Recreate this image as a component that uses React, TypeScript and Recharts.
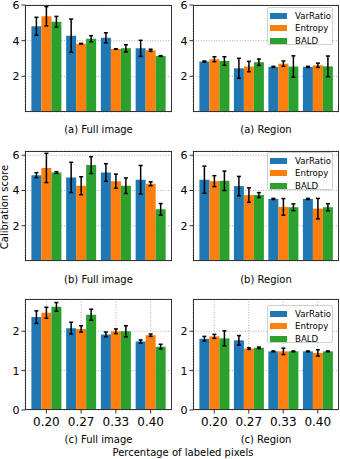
import { Bar, BarChart, CartesianGrid, ErrorBar, XAxis, YAxis } from 'recharts';

const levels = ['0.20', '0.27', '0.33', '0.40'];
const seriesNames = ['VarRatio', 'Entropy', 'BALD'];
const colors = ['#1f77b4', '#ff7f0e', '#2ca02c'];

// rows: VarRatio, Entropy, BALD
const aFullMean = [[4.81, 4.28, 4.16, 3.57], [5.37, 3.83, 3.53, 3.46], [5.06, 4.11, 3.57, 3.14]];
const aFullErr = [[0.5, 0.93, 0.28, 0.45], [0.54, 0.02, 0.01, 0.06], [0.3, 0.17, 0.2, 0.02]];
const aRegionMean = [[2.83, 2.45, 2.53, 2.53], [2.96, 2.55, 2.71, 2.62], [2.86, 2.79, 2.55, 2.56]];
const aRegionErr = [[0.03, 0.56, 0.03, 0.03], [0.14, 0.29, 0.15, 0.12], [0.24, 0.18, 0.6, 0.58]];
const bFullMean = [[4.87, 4.74, 5.02, 4.61], [5.28, 4.27, 4.53, 4.38], [5.02, 5.44, 4.27, 2.93]];
const bFullErr = [[0.14, 0.86, 0.5, 0.81], [0.83, 0.51, 0.4, 0.11], [0.05, 0.48, 0.44, 0.33]];
const bRegionMean = [[4.61, 4.25, 3.52, 3.52], [4.53, 3.74, 3.07, 2.97], [4.55, 3.74, 3.05, 3.05]];
const bRegionErr = [[0.77, 0.55, 0.03, 0.03], [0.31, 0.41, 0.47, 0.58], [0.55, 0.14, 0.19, 0.2]];
const cFullMean = [[2.36, 2.08, 1.92, 1.74], [2.47, 2.06, 2.0, 1.9], [2.62, 2.42, 2.0, 1.61]];
const cFullErr = [[0.16, 0.15, 0.06, 0.04], [0.14, 0.08, 0.06, 0.03], [0.11, 0.14, 0.14, 0.06]];
const cRegionMean = [[1.81, 1.77, 1.49, 1.49], [1.87, 1.56, 1.49, 1.45], [1.82, 1.58, 1.49, 1.49]];
const cRegionErr = [[0.06, 0.12, 0.01, 0.01], [0.05, 0.02, 0.08, 0.08], [0.19, 0.02, 0.01, 0.01]];

const AXIS_W = 25;
const TOP_PAD = 8;

interface Box { x0: number; x1: number; y0: number; y1: number }

interface PanelProps {
  means: number[][];
  errs: number[][];
  box: Box;
  yMax: number;
  yTicks: number[];
  xLabels?: boolean;
  legendTop?: number;
}

function KeyBox({ top, left }: { top: number; left: number }) {
  return (
    <div style={{ position: 'absolute', top, left, width: 66, height: 38, boxSizing: 'border-box', border: '1px solid #d0d0d0', borderRadius: 2, background: 'rgba(255,255,255,0.85)', fontSize: 8.6, padding: '2px 0 0 2px' }}>
      {seriesNames.map((name, i) => (
        <div key={name} style={{ display: 'flex', alignItems: 'center', height: 12.3 }}>
          <span style={{ width: 17, height: 6, background: colors[i], marginRight: 8 }} />
          <span>{name}</span>
        </div>
      ))}
    </div>
  );
}

function Panel({ means, errs, box, yMax, yTicks, xLabels, legendTop }: PanelProps) {
  const data = levels.map((level, i) => ({
    level,
    s0: means[0][i], e0: errs[0][i],
    s1: means[1][i], e1: errs[1][i],
    s2: means[2][i], e2: errs[2][i],
  }));
  const w = box.x1 - box.x0;
  const h = box.y1 - box.y0;
  const axisH = xLabels ? 30 : 5;
  return (
    <div style={{ position: 'absolute', left: box.x0 - AXIS_W, top: box.y0 - TOP_PAD }}>
      <BarChart width={w + AXIS_W} height={h + TOP_PAD + axisH} data={data} margin={{ top: TOP_PAD, right: 0, bottom: 0, left: 0 }} barCategoryGap={2.4} barGap={0}>
        <XAxis dataKey="level" height={axisH} interval={0} padding={{ left: 4, right: 4 }} axisLine={false} tickSize={3.5} tickMargin={4} tickLine={{ stroke: '#333' }} tick={xLabels ? { fontSize: 12, fill: '#000' } : false} />
        <YAxis width={AXIS_W} domain={[0, yMax]} ticks={yTicks} allowDataOverflow axisLine={false} tickSize={3.5} tickMargin={2} tickLine={{ stroke: '#333' }} tick={{ fontSize: 11, fill: '#000' }} />
        {[0, 1, 2].map((k) => (
          <Bar key={k} dataKey={`s${k}`} fill={colors[k]} isAnimationActive={false}>
            <ErrorBar dataKey={`e${k}`} direction="y" width={2} stroke="#000" strokeWidth={1.5} />
          </Bar>
        ))}
        <CartesianGrid stroke="#b0b0b0" strokeDasharray="1 1.6" />
      </BarChart>
      <div style={{ position: 'absolute', left: AXIS_W, top: TOP_PAD, width: w, height: h, boxSizing: 'border-box', border: '1px solid #333', pointerEvents: 'none' }} />
      {legendTop !== undefined && <KeyBox top={legendTop - box.y0 + TOP_PAD} left={AXIS_W + w - 72} />}
    </div>
  );
}

function Caption({ text, cx, cy, w }: { text: string; cx: number; cy: number; w: number }) {
  return (
    <div style={{ position: 'absolute', left: cx - w / 2, top: cy - 6, width: w, textAlign: 'center', fontSize: 10, lineHeight: '12px', whiteSpace: 'nowrap' }}>
      {text}
    </div>
  );
}

const leftCol = { x0: 25, x1: 172 };
const rightCol = { x0: 193, x1: 339 };
const row1 = { y0: 5, y1: 112 };
const row2 = { y0: 151, y1: 261 };
const row3 = { y0: 299, y1: 410 };

export default function App() {
  return (
    <div style={{ position: 'absolute', left: 0, top: 0, width: 340, height: 459, background: '#fff', fontFamily: 'DejaVu Sans', color: '#000', overflow: 'hidden' }}>
      <Panel means={aFullMean} errs={aFullErr} box={{ ...leftCol, ...row1 }} yMax={6} yTicks={[0, 2, 4, 6]} />
      <Panel means={aRegionMean} errs={aRegionErr} box={{ ...rightCol, ...row1 }} yMax={6} yTicks={[0, 2, 4, 6]} legendTop={7} />
      <Panel means={bFullMean} errs={bFullErr} box={{ ...leftCol, ...row2 }} yMax={6.24} yTicks={[0, 2, 4, 6]} />
      <Panel means={bRegionMean} errs={bRegionErr} box={{ ...rightCol, ...row2 }} yMax={6.24} yTicks={[0, 2, 4, 6]} legendTop={152} />
      <Panel means={cFullMean} errs={cFullErr} box={{ ...leftCol, ...row3 }} yMax={2.82} yTicks={[0, 1, 2]} xLabels />
      <Panel means={cRegionMean} errs={cRegionErr} box={{ ...rightCol, ...row3 }} yMax={2.82} yTicks={[0, 1, 2]} xLabels legendTop={305} />
      <Caption text="(a) Full image" cx={98.5} cy={130} w={140} />
      <Caption text="(a) Region" cx={266} cy={130} w={140} />
      <Caption text="(b) Full image" cx={98.5} cy={280} w={140} />
      <Caption text="(b) Region" cx={266} cy={280} w={140} />
      <Caption text="(c) Full image" cx={98.5} cy={440} w={140} />
      <Caption text="(c) Region" cx={266} cy={440} w={140} />
      <Caption text="Percentage of labeled pixels" cx={183} cy={453} w={200} />
      <div style={{ position: 'absolute', left: 5 - 60, top: 207 - 6, width: 120, textAlign: 'center', fontSize: 10, lineHeight: '12px', transform: 'rotate(-90deg)' }}>
        Calibration score
      </div>
    </div>
  );
}
